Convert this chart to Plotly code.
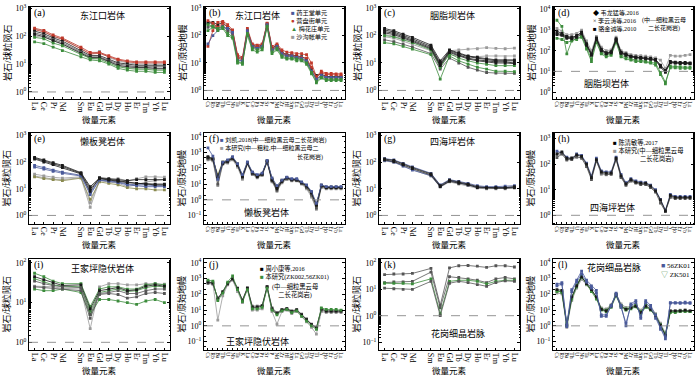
import plotly.graph_objects as go
from plotly.subplots import make_subplots

FONT = "Liberation Serif, Noto Sans CJK SC, serif"
RED, BLACK, GREEN, GREY, BLUE, OLIVE, DKGREY = "#c0392b", "#1a1a1a", "#3c8c3c", "#9a9a9a", "#4a5a9a", "#8a8a50", "#555555"

# ---------------- categories ----------------
REE = ["La", "Ce", "Pr", "Nd", " ", "Sm", "Eu", "Gd", "Tb", "Dy", "Ho", "Er", "Tm", "Yb", "Lu"]
SPIDER = ["Cs", "Rb", "Ba", "Th", "U", "Nb", "Ta", "K", "La", "Ce", "Pb", "Pr", "Sr", "P", "Nd",
          "Zr", "Hf", "Sm", "Eu", "Gd", "Tb", "Dy", "Ti", "Y", "Ho", "Er", "Yb", "Lu"]

# ---------------- (a) 东江口岩体 REE ----------------
a_red1 = [190, 160, 110, 85, None, 40, 26, 26, 20, 15, 13, 12, 12, 12, 12]
a_red2 = [170, 140, 100, 76, None, 35, 23, 24, 18, 14, 12, 11, 11, 11, 11]
a_gry1 = [180, 150, 92, 80, None, 35, 22, 28, 17, 13, 11, 10, 10, 10, 10]
a_blk1 = [150, 122, 86, 66, None, 30, 20, 20, 15, 11, 10, 9, 9, 9, 9]
a_blk2 = [130, 106, 76, 58, None, 27, 18, 18, 13, 10, 9, 8, 8, 8, 8]
a_blk3 = [115, 95, 68, 52, None, 24, 17, 17, 12, 9, 8, 7.5, 7.5, 7, 7]
a_gry2 = [100, 90, 70, 50, None, 26, 15, 16, 12, 8.5, 7.5, 7, 7, 6.5, 6.5]
a_grn1 = [90, 80, 56, 45, None, 22, 16, 15, 11, 8, 7, 6.5, 6.5, 6, 6]
a_grn2 = [62, 54, 40, 30, None, 18, 14, 13, 10, 7, 6, 5.5, 5.5, 5, 5]

# ---------------- (b) 东江口岩体 spider ----------------
b_blk1 = [280, 300, 250, 300, 200, 150, 18, 14, 160, 45, 40, 45, 270, 35, 45, 25, 20, 20, 18, 17, 14, 6, 3.5, 4, 3.2, 3.2, 3.2, 3.2]
b_blk2 = [200, 220, 180, 220, 150, 110, 14, 11, 130, 38, 33, 38, 230, 28, 38, 20, 17, 17, 15, 14, 11, 5, 2.5, 3.3, 2.8, 2.8, 2.8, 2.8]
b_red1 = [40, 150, 300, 330, 250, 160, 20, 16, 180, 50, 45, 50, 280, 40, 50, 30, 25, 24, 22, 22, 20, 10, 3.2, 5, 4.2, 4.2, 4, 4]
b_red2 = [350, 280, 200, 280, 200, 140, 16, 13, 150, 42, 38, 42, 260, 32, 44, 24, 19, 19, 17, 16, 15, 7, 2.9, 4.5, 3.8, 3.8, 3.6, 3.6]
b_blu1 = [50, 100, 150, 200, 180, 130, 12, 12, 150, 40, 35, 40, 250, 30, 40, 22, 18, 18, 16, 15, 12, 5, 2.6, 3.6, 3, 3, 3, 3]
b_grn1 = [150, 200, 180, 200, 120, 90, 12, 9, 120, 35, 30, 35, 220, 25, 35, 18, 15, 15, 14, 13, 10, 4.5, 2.1, 3, 2.5, 2.5, 2.5, 2.5]
b_grn2 = [250, 220, 150, 180, 100, 80, 10, 10, 100, 30, 25, 30, 200, 22, 30, 16, 14, 14, 12, 12, 9, 4, 1.9, 2.8, 2.3, 2.3, 2.3, 2.3]
b_gry1 = [300, 260, 200, 230, 170, 120, 16, 12, 140, 40, 36, 40, 240, 30, 42, 22, 19, 18, 16, 15, 12, 6, 2.6, 3.8, 3.1, 3, 3, 3]

# ---------------- (c) 胭脂坝岩体 REE ----------------
c_blk1 = [180, 150, 112, 86, None, 45, 12, 30, 24, 18, 16, 14, 13, 13, 13]
c_blk2 = [160, 134, 100, 76, None, 40, 10, 28, 22, 17, 15, 13, 12, 12, 12]
c_blk3 = [140, 120, 90, 68, None, 36, 9, 26, 20, 15, 13, 12, 11, 11, 10]
c_blk4 = [125, 108, 82, 62, None, 33, 8, 24, 18, 14, 12, 11, 10, 10, 9.5]
c_grn1 = [100, 90, 70, 55, None, 30, 7, 22, 15, 12, 10, 9, 8, 8, 8]
c_grn2 = [55, 50, 40, 32, None, 20, 2.6, 18, 12, 9, 7, 6, 5, 5, 4.8]
c_gry1 = [110, 95, 75, 58, None, 32, 8, 28, 30, 32, 33, 36, 34, 33, 35]
c_gry2 = [90, 80, 62, 48, None, 28, 7, 20, 18, 17, 17, 18, 18, 17, 18]
c_gry3 = [70, 60, 48, 38, None, 22, 6, 15, 10, 7, 5.5, 4.5, 4.3, 4.2, 4.2]

# ---------------- (d) 胭脂坝岩体 spider ----------------
d_gry1 = [1200, 900, 600, 600, 700, 1000, 300, 100, 500, 150, 100, 110, 450, 100, 80, 65, 60, 58, 55, 50, 45, 35, 14, 60, 55, 55, 60, 65]
d_grn1 = [3000, 1500, 70, 300, 400, 500, 150, 40, 300, 80, 60, 70, 300, 60, 50, 40, 35, 35, 30, 28, 25, 9, 3, 15, 15, 14, 14, 14]
d_grn2 = [400, 350, 250, 300, 350, 450, 120, 30, 250, 70, 50, 60, 250, 50, 40, 35, 30, 30, 28, 25, 20, 7, 2.5, 18, 17, 17, 16, 16]
d_blk1 = [900, 700, 500, 450, 500, 800, 220, 70, 420, 120, 80, 90, 380, 85, 70, 55, 50, 48, 45, 42, 38, 20, 11, 30, 28, 27, 27, 26]
d_blk2 = [600, 550, 400, 380, 450, 650, 180, 60, 350, 100, 70, 80, 330, 75, 60, 50, 45, 43, 40, 38, 34, 16, 9, 26, 25, 24, 24, 23]
d_blk3 = [700, 600, 450, 420, 550, 750, 200, 65, 400, 110, 75, 85, 350, 80, 65, 52, 48, 46, 42, 40, 36, 18, 10, 28, 26, 25, 25, 24]

# ---------------- (e) 懒板凳岩体 REE ----------------
e_blk1 = [150, 120, 95, 75, None, 40, 12, 25, 22, 20, 18, 16, 15, 14, 14]
e_blk2 = [140, 110, 85, 68, None, 38, 10, 24, 21, 19, 17, 16, 15, 15, 15]
e_blk3 = [130, 100, 80, 62, None, 36, 8, 26, 24, 22, 20, 22, 22, 22, 22]
e_blu1 = [75, 62, 50, 42, None, 32, 7, 22, 20, 18, 15, 14, 14, 13, 13]
e_blu2 = [65, 55, 45, 38, None, 30, 6, 21, 19, 17, 14, 13, 12, 12, 12]
e_gry1 = [35, 30, 27, 25, None, 28, 3, 20, 18, 16, 12, 14, 18, 20, 22]
e_gry2 = [30, 26, 23, 22, None, 26, 2, 20, 22, 24, 20, 24, 28, 28, 27]
e_olv1 = [28, 24, 22, 20, None, 25, 4, 18, 16, 14, 11, 10, 10, 9, 9]

# ---------------- (f) 懒板凳岩体 spider ----------------
f_blu1 = [2000, 600, 20, 250, 350, 550, 200, 40, 260, 60, 40, 50, 320, 25, 8, 18, 28, 22, 22, 14, 9, 3.5, 0.6, 9, 7, 7, 7, 7]
f_blk1 = [500, 400, 30, 230, 300, 470, 180, 33, 230, 55, 35, 45, 290, 20, 6, 16, 26, 20, 20, 13, 8, 3, 0.5, 8, 6, 6, 6, 6]
f_blk2 = [400, 350, 10, 200, 250, 400, 150, 25, 200, 45, 28, 40, 260, 16, 4, 14, 22, 18, 17, 11, 6, 2, 0.3, 7, 5.5, 5.5, 5.5, 5.5]
f_blk3 = [550, 420, 25, 210, 280, 450, 170, 30, 220, 50, 30, 44, 300, 18, 5, 15, 25, 19, 19, 12, 7.5, 2.8, 0.45, 8.5, 6.5, 6.5, 6.5, 6.5]
f_gry1 = [350, 300, 8, 180, 220, 350, 120, 20, 180, 40, 25, 35, 240, 14, 3.5, 12, 20, 16, 16, 10, 5, 1.5, 0.25, 6, 5, 5, 5, 5]
f_olv1 = [450, 380, 40, 260, 320, 500, 200, 35, 210, 50, 32, 42, 280, 22, 7, 18, 24, 20, 19, 12, 7, 2.5, 0.4, 7.5, 6, 6.5, 6.5, 6]

# ---------------- (g) 四海坪岩体 REE ----------------
g_blk1 = [130, 115, 85, 62, None, 36, 13, 21, 18, 15, 12, 11, 11, 11, 12]
g_blk2 = [120, 105, 78, 57, None, 33, 12, 19, 16, 14, 11, 10.5, 10.5, 10.5, 11]
g_gry1 = [110, 98, 72, 52, None, 30, 11.5, 18, 15, 13, 10.5, 10, 10, 10, 10.5]
g_blu1 = [135, 120, 90, 66, None, 38, 14, 22, 19, 16, 13, 12, 12, 12.5, 13]
g_blu2 = [115, 100, 70, 50, None, 31, 12, 20, 17, 14, 11.5, 11, 11, 11, 11.5]

# ---------------- (h) 四海坪岩体 spider ----------------
h_blk1 = [250, 300, 170, 170, 230, 200, 100, 30, 150, 50, 45, 45, 170, 35, 17, 25, 20, 18, 18, 14, 9, 4, 1.5, 6, 5, 5, 5, 5]
h_blk2 = [180, 250, 150, 150, 200, 170, 80, 25, 130, 45, 40, 40, 150, 30, 15, 22, 18, 16, 16, 12, 8, 3, 1.4, 5, 4.5, 4.5, 4.5, 4.5]
h_blu1 = [320, 280, 190, 160, 250, 220, 110, 35, 170, 55, 50, 50, 190, 40, 19, 27, 22, 20, 19, 15, 10, 4.2, 1.6, 6.5, 5.5, 5.5, 5.5, 5.5]
h_gry1 = [220, 260, 140, 180, 180, 180, 90, 28, 140, 40, 38, 42, 160, 32, 16, 23, 19, 17, 17, 13, 9, 3.8, 1.5, 5.5, 4.8, 4.8, 5, 5]

# ---------------- (i) 王家坪隐伏岩体 REE ----------------
i_grn1 = [55, 45, 35, 30, None, 30, 8, 22, 25, 25, 22, 22, 28, 30, 28]
i_blk1 = [45, 38, 32, 27, None, 28, 7, 20, 22, 24, 20, 21, 26, 28, 26]
i_grn2 = [40, 34, 28, 26, None, 25, 6, 18, 20, 22, 19, 20, 24, 26, 25]
i_blk2 = [35, 30, 27, 25, None, 24, 5, 17, 18, 20, 17, 17, 20, 22, 22]
i_gry1 = [26, 25, 25, 23, None, 22, 2.2, 25, 30, 30, 28, 28, 30, 30, 29]
i_blk3 = [25, 24, 23, 22, None, 20, 4, 16, 17, 16, 13, 14, 17, 18, 17]
i_grn3 = [22, 20, 20, 22, None, 18, 5, 12, 12, 11, 10, 9, 11, 12, 10]

# ---------------- (j) 王家坪隐伏岩体 spider ----------------
j_blk1 = [600, 550, 50, 150, 500, 1000, 250, 40, 250, 15, 15, 18, 300, 12, 6, 10, 12, 8, 10, 5, 2.5, 1.2, 0.7, 12, 9, 9, 9, 9]
j_grn1 = [800, 700, 40, 120, 600, 1500, 200, 35, 200, 12, 12, 15, 250, 10, 5, 9, 11, 7, 9, 4, 2, 1, 0.6, 14, 11, 11, 11, 10]
j_gry1 = [700, 500, 2.3, 80, 400, 800, 150, 30, 220, 10, 10, 12, 280, 8, 1.3, 8, 10, 6, 8, 4, 1.8, 0.8, 0.3, 8, 7, 7, 7, 7]
j_blk2 = [500, 450, 60, 130, 450, 900, 220, 45, 260, 18, 18, 20, 320, 14, 7, 11, 13, 9, 11, 5.5, 2.8, 1.3, 0.8, 10, 8, 8, 8, 8]

# ---------------- (k) 花岗细晶岩脉 REE ----------------
k_1 = [36, 38, 38, 40, None, 62, 2.5, 65, 78, 80, 75, 68, 78, 78, 70]
k_2 = [18, 19, 19, 20, None, 45, 2, 30, 28, 25, 22, 18, 25, 28, 25]
k_3 = [17, 17, 17, 16, None, 25, 1.2, 20, 22, 22, 20, 16, 20, 22, 22]
k_4 = [11, 10.5, 10, 10, None, 20, 1, 17, 20, 18, 15, 13, 18, 21, 20]

# ---------------- (l) 花岗细晶岩脉 spider ----------------
l_blu1 = [450, 550, 1.2, 200, 800, 3000, 800, 350, 180, 4, 4, 20, 120, 20, 1, 25, 40, 3, 40, 20, 5, 0.8, 0.2, 30, 30, 30, 32, 30]
l_blu2 = [350, 450, 0.9, 150, 600, 2000, 600, 250, 120, 5, 5, 18, 100, 15, 1.5, 20, 30, 4, 30, 15, 3, 0.6, 0.15, 28, 28, 27, 28, 27]
l_grn1 = [150, 150, 1, 50, 300, 1200, 500, 200, 60, 12, 10, 20, 100, 20, 12, 15, 20, 8, 20, 12, 5, 1.2, 0.3, 8, 8, 9, 9, 8]
l_grn2 = [180, 130, 1.5, 60, 400, 1500, 450, 150, 50, 10, 8, 15, 80, 15, 10, 12, 16, 6, 15, 10, 4, 1, 0.25, 7, 7, 8, 8, 8]
l_gry1 = [120, 110, 0.8, 40, 250, 900, 400, 180, 70, 14, 12, 22, 110, 25, 15, 18, 22, 10, 25, 15, 6, 1.5, 0.35, 9, 9, 10, 10, 9]
l_blk1 = [200, 180, 1.1, 70, 350, 1300, 480, 200, 70, 11, 9, 18, 95, 18, 11, 14, 18, 7, 18, 11, 4.5, 1.1, 0.25, 9, 9, 9, 10, 9]

# ---------------- panel definitions ----------------
panels = [
    dict(kind="ree", lab="(a)", yr=[-0.26, 3.04], tk=[0, 1, 2, 3], ref=1,
         series=[(a_gry1, GREY), (a_gry2, GREY), (a_red1, RED), (a_red2, RED), (a_blk1, BLACK),
                 (a_blk2, DKGREY), (a_blk3, BLACK), (a_grn1, GREEN), (a_grn2, GREEN)]),
    dict(kind="sp", lab="(b)", yr=[-0.32, 3.04], tk=[0, 1, 2, 3], ref=1,
         series=[(b_gry1, GREY), (b_blk1, BLACK), (b_blk2, DKGREY), (b_red1, RED), (b_red2, RED),
                 (b_blu1, BLUE), (b_grn1, GREEN), (b_grn2, GREEN)]),
    dict(kind="ree", lab="(c)", yr=[-0.32, 3.04], tk=[0, 1, 2, 3], ref=1,
         series=[(c_gry1, GREY), (c_gry2, GREY), (c_gry3, DKGREY), (c_grn1, GREEN), (c_grn2, GREEN),
                 (c_blk1, BLACK), (c_blk2, BLACK), (c_blk3, BLACK), (c_blk4, BLACK)]),
    dict(kind="sp", lab="(d)", yr=[-0.35, 4.12], tk=[0, 1, 2, 3, 4], ref=10,
         series=[(d_gry1, GREY), (d_grn1, GREEN), (d_grn2, GREEN), (d_blk1, BLACK), (d_blk2, BLACK),
                 (d_blk3, BLACK)]),
    dict(kind="ree", lab="(e)", yr=[-0.33, 3.09], tk=[0, 1, 2, 3], ref=1,
         series=[(e_gry1, GREY), (e_gry2, GREY), (e_olv1, OLIVE), (e_blu1, BLUE), (e_blu2, BLUE),
                 (e_blk1, BLACK), (e_blk2, BLACK), (e_blk3, BLACK)]),
    dict(kind="sp", lab="(f)", yr=[-1.55, 4.25], tk=[-1, 0, 1, 2, 3, 4], ref=1,
         series=[(f_gry1, GREY), (f_olv1, OLIVE), (f_blk2, DKGREY), (f_blk1, BLACK), (f_blk3, BLACK),
                 (f_blu1, BLUE)]),
    dict(kind="ree", lab="(g)", yr=[-0.33, 3.09], tk=[0, 1, 2, 3], ref=1,
         series=[(g_gry1, GREY), (g_blu1, BLUE), (g_blu2, BLUE), (g_blk1, BLACK), (g_blk2, BLACK)]),
    dict(kind="sp", lab="(h)", yr=[-0.35, 3.22], tk=[0, 1, 2, 3], ref=1,
         series=[(h_gry1, GREY), (h_blu1, BLUE), (h_blk2, DKGREY), (h_blk1, BLACK)]),
    dict(kind="ree", lab="(i)", yr=[-0.2, 2.1], tk=[0, 1, 2], ref=1,
         series=[(i_gry1, GREY), (i_grn1, GREEN), (i_grn2, GREEN), (i_grn3, GREEN), (i_blk1, BLACK),
                 (i_blk2, DKGREY), (i_blk3, DKGREY)]),
    dict(kind="sp", lab="(j)", yr=[-1.55, 4.25], tk=[-1, 0, 1, 2, 3, 4], ref=1,
         series=[(j_gry1, GREY), (j_blk2, DKGREY), (j_blk1, BLACK), (j_grn1, GREEN)]),
    dict(kind="ree", lab="(k)", yr=[-1.31, 2.15], tk=[-1, 0, 1, 2], ref=1,
         series=[(k_1, DKGREY), (k_2, DKGREY), (k_3, GREEN), (k_4, DKGREY)]),
    dict(kind="sp", lab="(l)", yr=[-1.55, 4.25], tk=[-1, 0, 1, 2, 3, 4], ref=1,
         series=[(l_gry1, GREY), (l_grn1, GREEN), (l_grn2, GREEN), (l_blk1, BLACK), (l_blu1, BLUE),
                 (l_blu2, BLUE)]),
]

W, H = 700, 382
col_left = [29, 204, 379, 553]
frame_w = 141
row_top = [4, 131, 258]
row_bot = [97, 223, 350]

fig = make_subplots(rows=3, cols=4, horizontal_spacing=0.02, vertical_spacing=0.02)


def sup(e):
    return "10<sup>%s</sup>" % (str(e) if e >= 0 else "\u2212" + str(-e))


for idx, p in enumerate(panels):
    r, c = idx // 4 + 1, idx % 4 + 1
    n = idx + 1
    s = "" if n == 1 else str(n)
    cats = REE if p["kind"] == "ree" else SPIDER
    for vals, col in p["series"]:
        fig.add_trace(go.Scatter(
            x=cats, y=vals, mode="lines+markers", connectgaps=True, showlegend=False,
            line=dict(color=col, width=0.8),
            marker=dict(size=2.8, color=col, symbol="square")), row=r, col=c)
    x0 = col_left[c - 1] / W
    x1 = (col_left[c - 1] + frame_w) / W
    y1 = 1 - row_top[r - 1] / H
    y0 = 1 - row_bot[r - 1] / H
    nc = len(cats)
    pad = 0.6 if p["kind"] == "ree" else 0.8
    fig.update_xaxes(domain=[x0, x1], type="category", categoryorder="array", categoryarray=cats,
                     tickmode="array", tickvals=cats, ticktext=cats,
                     range=[-pad, nc - 1 + pad], tickangle=90,
                     tickfont=dict(size=8 if p["kind"] == "ree" else 5.5, family=FONT, color="black"),
                     ticks="inside", ticklen=2, tickcolor="black",
                     showline=True, mirror=True, linecolor="black", linewidth=1,
                     showgrid=False, zeroline=False, row=r, col=c)
    fig.update_yaxes(domain=[y0, y1], type="log", range=p["yr"],
                     tickvals=[10 ** e for e in p["tk"]], ticktext=[sup(e) for e in p["tk"]],
                     tickfont=dict(size=8, family=FONT, color="black"),
                     ticks="inside", ticklen=3, tickcolor="black",
                     minor=dict(ticks="inside", ticklen=1.5, tickcolor="black", showgrid=False),
                     showline=True, mirror="ticks", linecolor="black", linewidth=1,
                     showgrid=False, zeroline=False, row=r, col=c)
    # reference dashed line
    fig.add_shape(type="line", xref=f"x{s} domain", x0=0, x1=1, yref=f"y{s}", y0=p["ref"], y1=p["ref"],
                  line=dict(color="#888888", width=0.9, dash="dash"))
    # panel letter
    fig.add_annotation(xref=f"x{s} domain", yref=f"y{s} domain", x=0.02, y=0.93, text=p["lab"],
                       showarrow=False, xanchor="left", yanchor="middle",
                       font=dict(size=10, family=FONT, color="black"))
    # axis titles
    ytitle = "岩石/球粒陨石" if p["kind"] == "ree" else "岩石/原始地幔"
    fig.add_annotation(xref="paper", yref="paper", x=(col_left[c - 1] - 22) / W,
                       y=(y0 + y1) / 2, text=ytitle, textangle=-90, showarrow=False,
                       xanchor="center", yanchor="middle", font=dict(size=9, family=FONT, color="black"))
    fig.add_annotation(xref="paper", yref="paper", x=(col_left[c - 1] + frame_w / 2) / W,
                       y=1 - (row_bot[r - 1] + 21) / H, text="微量元素", showarrow=False,
                       xanchor="center", yanchor="middle", font=dict(size=8.5, family=FONT, color="black"))


def note(n, x, y, text, size=7.5, xanchor="left", align="left"):
    s = "" if n == 1 else str(n)
    fig.add_annotation(xref=f"x{s} domain", yref=f"y{s} domain", x=x, y=y, text=text,
                       showarrow=False, xanchor=xanchor, yanchor="top", align=align,
                       font=dict(size=size, family=FONT, color="black"))


def sym(color, ch):
    return "<span style='color:%s'>%s</span>" % (color, ch)


# titles
TT = 9
note(1, 0.52, 0.985, "东江口岩体", TT, "center")
note(2, 0.38, 0.985, "东江口岩体", TT, "center")
note(3, 0.52, 0.985, "胭脂坝岩体", TT, "center")
note(4, 0.38, 0.25, "胭脂坝岩体", TT, "center")
note(5, 0.52, 0.985, "懒板凳岩体", TT, "center")
note(6, 0.44, 0.21, "懒板凳岩体", TT, "center")
note(7, 0.52, 0.985, "四海坪岩体", TT, "center")
note(8, 0.42, 0.27, "四海坪岩体", TT, "center")
note(9, 0.52, 0.975, "王家坪隐伏岩体", TT, "center")
note(10, 0.38, 0.18, "王家坪隐伏岩体", TT, "center")
note(11, 0.56, 0.27, "花岗细晶岩脉", TT, "center")
note(12, 0.43, 0.985, "花岗细晶岩脉", TT, "center")

# legends (one block each)
note(2, 0.60, 1.0, "<br>".join([sym(BLUE, "■") + " 药王堂单元", sym(RED, "●") + " 营盘街单元",
                                sym(GREEN, "▲") + " 梅花庄单元", sym(GREY, "■") + " 沙沟帐单元"]), 6.2)
note(4, 0.27, 1.0, "<br>".join(["◆ 韦龙猛等,2016", "× 李云涛等,2016", "■ 骆金诚等,2010"]), 6.1)
note(4, 0.79, 0.92, "(中—细粒黑云母<br>二长花岗岩)", 6.0, "center", "center")
note(6, 0.10, 0.99, sym(BLUE, "■") + " 刘凯,2018(中—细粒黑云母二长花岗岩)<br>"
     + sym(GREY, "■") + " 本研究(中—粗粒,中—细粒黑云母二", 6.0)
note(6, 0.75, 0.80, "长花岗岩)", 6.0, "center")
note(8, 0.41, 0.97, "■ 陈清敏等,2017<br>" + sym(GREY, "■") + " 本研究(中—细粒黑云母", 6.3)
note(8, 0.74, 0.79, "二长花岗岩)", 6.3, "center")
note(10, 0.38, 0.97, "■ 周小康等,2016<br>" + sym(GREEN, "■") + " 本研究(ZK002,56ZK01)", 6.3)
note(10, 0.645, 0.77, "(中—细粒黑云母<br>二长花岗岩)", 6.3, "center", "center")
note(12, 0.75, 0.985, sym(BLUE, "■") + " 56ZK01<br>" + sym(GREEN, "▽") + " ZK501", 7)

fig.update_layout(width=W, height=H, margin=dict(l=0, r=0, t=0, b=0),
                  plot_bgcolor="white", paper_bgcolor="white",
                  font=dict(family=FONT, color="black"))

fig.write_html("out.html", config={"displayModeBar": False},
               post_script="document.body.style.margin='0px';document.body.style.padding='0px';"
                           "document.documentElement.style.overflow='hidden';")
